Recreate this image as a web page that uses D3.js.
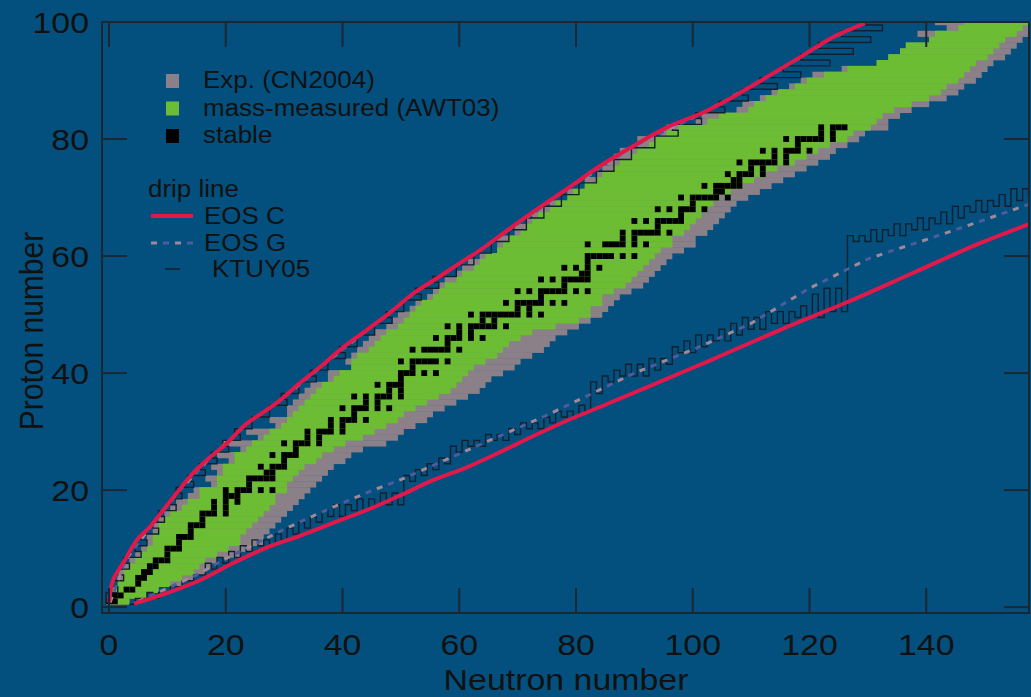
<!DOCTYPE html>
<html>
<head>
<meta charset="utf-8">
<script src="https://cdn.jsdelivr.net/npm/d3@7"></script>
<style>
  html, body { margin: 0; padding: 0; background: #03507e; }
  svg { display: block; }
  text { font-family: "Liberation Sans", Arial, Helvetica, sans-serif; fill: #111; }
</style>
</head>
<body>
<svg id="chart" width="1031" height="697"></svg>
<script>
(function() {

  'use strict';

  // --- data ---------------------------------------------------------------
  // index 0 -> Z = 1 ... index 99 -> Z = 100

  // Exp. (CN2004): lightest / heaviest known neutron number per Z
  var knownMin = [0,1,1,2,2,2,3,4,5,6, 7,7,8,8,9,10,11,12,14,15, 18,17,19,18,21,19,23,20,26,24,
                  29,28,31,31,32,33,34,35,38,38, 42,41,42,43,44,45,46,48,49,50, 52,53,55,56,57,58,60,61,62,64,
                  67,67,67,70,70,72,73,74,76,80, 79,82,82,84,85,86,87,88,91,91, 95,96,101,102,108,109,112,114,117,119,
                  121,126,132,134,136,137,141,139,144,142];
  var knownMax = [3,6,8,12,14,16,17,18,22,24, 26,26,27,28,29,30,31,32,33,34, 35,36,37,38,40,41,43,47,49,50,
                  52,54,55,57,59,61,63,64,65,67, 69,70,72,74,75,76,78,80,82,84, 85,86,87,89,91,92,93,94,95,96,
                  98,100,100,102,103,104,105,106,107,109, 111,113,115,117,119,121,123,124,126,128, 129,133,133,135,137,140,143,145,146,148,
                  149,150,151,153,154,155,156,158,158,159];

  // mass-measured (AWT03)
  var massMin = [0,1,1,2,3,3,4,5,6,7, 8,8,9,9,10,11,13,14,16,16, 19,19,20,20,22,22,24,25,27,28,
                 30,31,32,33,34,35,36,37,39,40, 42,42,43,45,46,47,48,50,51,52, 53,54,56,57,58,60,61,63,64,65,
                 67,68,69,71,72,73,74,76,77,79, 80,82,84,85,87,88,90,91,93,94, 96,98,103,105,110,111,113,115,118,120,
                 123,127,132,134,136,137,141,142,146,147];
  var massMax = [3,6,8,10,12,14,15,16,18,20, 22,22,23,24,25,26,27,28,28,30, 30,31,32,33,35,36,38,40,43,45,
                 47,49,50,52,54,56,58,59,60,61, 62,64,66,67,68,70,72,76,80,82, 82,84,84,86,88,89,90,91,92,93,
                 94,96,96,98,99,100,101,102,103,104, 106,108,110,112,114,117,119,121,123,126, 127,130,131,132,134,137,140,142,143,145,
                 146,147,148,150,151,152,153,155,156,157];

  // stable nuclei: [Z, neutron numbers]
  var stable = [
    [1,[0,1]],[2,[1,2]],[3,[3,4]],[4,[5]],[5,[5,6]],[6,[6,7]],[7,[7,8]],[8,[8,9,10]],[9,[10]],[10,[10,11,12]],
    [11,[12]],[12,[12,13,14]],[13,[14]],[14,[14,15,16]],[15,[16]],[16,[16,17,18,20]],[17,[18,20]],[18,[18,20,22]],
    [19,[20,21,22]],[20,[20,22,23,24,26,28]],[21,[24]],[22,[24,25,26,27,28]],[23,[27,28]],[24,[26,28,29,30]],
    [25,[30]],[26,[28,30,31,32]],[27,[32]],[28,[30,32,33,34,36]],[29,[34,36]],[30,[34,36,37,38,40]],[31,[38,40]],
    [32,[38,40,41,42,44]],[33,[42]],[34,[40,42,43,44,46,48]],[35,[44,46]],[36,[42,44,46,47,48,50]],[37,[48,50]],
    [38,[46,48,49,50]],[39,[50]],[40,[50,51,52,54,56]],[41,[52]],[42,[50,52,53,54,55,56,58]],
    [44,[52,54,55,56,57,58,60]],[45,[58]],[46,[56,58,59,60,62,64]],[47,[60,62]],[48,[58,60,62,63,64,65,66,68]],
    [49,[64,66]],[50,[62,64,65,66,67,68,69,70,72,74]],[51,[70,72]],[52,[68,70,71,72,73,74,76,78]],[53,[74]],
    [54,[70,72,74,75,76,77,78,80,82]],[55,[78]],[56,[74,76,78,79,80,81,82]],[57,[81,82]],[58,[78,80,82,84]],
    [59,[82]],[60,[82,83,84,85,86,88,90]],[62,[82,85,86,87,88,90,92]],[63,[88,90]],[64,[88,90,91,92,93,94,96]],
    [65,[94]],[66,[90,92,94,95,96,97,98]],[67,[98]],[68,[94,96,98,99,100,102]],[69,[100]],
    [70,[98,100,101,102,103,104,106]],[71,[104,105]],[72,[102,104,105,106,107,108]],[73,[107,108]],
    [74,[106,108,109,110,112]],[75,[110,112]],[76,[108,110,111,112,113,114,116]],[77,[114,116]],
    [78,[112,114,116,117,118,120]],[79,[118]],[80,[116,118,119,120,121,122,124]],[81,[122,124]],[82,[122,124,125,126]]
  ];

  // KTUY05 proton drip line: lightest bound N for Z = 1..100
  var ktuyProton = [0,0,2,1,3,2,4,3,6,5, 7,6,9,8,10,9,12,11,13,12, 15,14,17,16,19,18,21,20,23,22,
                    25,25,28,28,31,30,33,33,36,35, 38,38,41,40,43,43,46,46,49,48, 51,51,54,53,57,56,60,60,63,63,
                    66,66,69,69,72,72,75,75,78,78, 81,81,84,84,87,87,90,90,94,94, 98,97,102,101,106,105,110,109,115,112,
                    119,116,124,119,128,122,131,126,133,130];

  // KTUY05 neutron drip line: lightest bound Z for N = 4..158
  var ktuyNeutronStart = 4;
  var ktuyNeutron = [1,2,2,3,2,3,3,4,4,5, 5,6,6,8,7,9,8,10,9,11,
                     10,12,11,12,11,13,12,14,13,15, 14,16,15,17,16,18,16,18,17,19,
                     17,19,18,20,18,20,18,23,22,24, 23,25,24,26,25,28,27,29,28,29,
                     28,30,29,30,29,31,30,32,31,32, 31,33,32,34,33,34,33,35,34,39,
                     37,40,39,41,40,42,40,42,40,43, 41,43,42,45,44,46,44,47,45,47,
                     46,48,46,49,47,50,48,50,48,51, 49,51,49,51,50,52,50,54,50,55,
                     51,55,51,64,63,64,63,65,63,65, 64,66,64,66,65,67,65,67,66,68,
                     66,69,67,69,68,70,68,70,69,71, 69,72,70,72,71];

  // EOS C drip lines [N, Z]
  var eosCProton = [[0,0.8],[0.7,4.6],[2.7,8],[4.8,11.5],[7,13.7],[9.3,16.6],[11.6,19.5],[14.4,22.9],[17.3,25.6],
                    [20.2,28],[23.6,31.4],[26.6,33.4],[29.6,35.6],[32.7,38.3],[36.1,41],[40.1,44.4],[44.2,47.4],
                    [48.1,50.3],[52.1,53.6],[56.3,56.3],[60.1,58.8],[63.6,61],[67,63.5],[72.6,67.5],[78.5,71.5],
                    [84.1,75.4],[89.8,78.8],[95.6,82],[101.5,84.4],[106.9,87.2],[112.7,90.6],[118.4,94],
                    [124,97.4],[129.5,99.8]];
  var eosCNeutron = [[4.3,0.6],[9.9,2.4],[15.6,4.6],[21.2,7.5],[27.1,10.2],[32.7,12.2],[38.4,14.4],[44.2,16.6],
                     [49.9,19.1],[55.5,21.7],[61.3,23.9],[67,26.5],[72.6,29.2],[78.5,31.9],[84.1,34.2],[92.2,37.6],
                     [103.5,42.4],[115,47.4],[126.4,52.1],[137.7,57.1],[149.2,62.2],[158,65.6]];

  // EOS G drip lines [N, Z] (proton side lies under EOS C)
  var eosGProton = [[0.2,0.8],[2.8,8],[7.1,13.7],[11.7,19.5],[17.4,25.6],[23.7,31.4],[29.7,35.6],[36.2,41],
                    [44.3,47.4],[52.2,53.6],[60.2,58.8],[67.1,63.5],[78.6,71.5],[89.9,78.8],[101.6,84.4],
                    [112.8,90.6],[124.1,97.4],[129.6,99.8]];
  var eosGNeutron = [[5,1],[10,3.2],[15,5.5],[20,8.3],[25,10.8],[30,13.3],[35,15.6],[40,17.8],[45,19.9],
                     [50,21.8],[55,24],[60,26.2],[65,28.4],[70,30.6],[75,32.8],[80,35.2],[85,37.6],[90,40],
                     [95,42],[100,44],[105,46.2],[110,48.5],[115,51.5],[120,54.5],[125,57],[130,59.5],
                     [135,61.2],[140,62.8],[145,64.5],[150,66.2],[158,69]];

  var xTicks = [0, 20, 40, 60, 80, 100, 120, 140];
  var yTicks = [0, 20, 40, 60, 80, 100];

  var legendCells = [
    { label: 'Exp. (CN2004)', color: '#8c8088' },
    { label: 'mass-measured (AWT03)', color: '#6cbc34' },
    { label: 'stable', color: '#000000' }
  ];
  var legendLines = ['EOS C', 'EOS G', 'KTUY05'];

  // --- colours / scales ---------------------------------------------------
  var grey = '#8c8088';
  var green = '#6cbc34';
  var red = '#e2184a';
  var gDashA = '#a08898';
  var gDashB = '#4c5c9c';
  var axisCol = '#1b2733';
  var stretch = 'scale(1.13,1)';

  var svg = d3.select('#chart');
  var x = d3.scaleLinear().domain([-1.2, 157.6]).range([102, 1029]);
  var y = d3.scaleLinear().domain([-1, 100]).range([613, 22]);

  svg.append('rect').attr('width', 1031).attr('height', 697).attr('fill', '#03507e');

  svg.append('clipPath').attr('id', 'plotclip')
    .append('rect')
    .attr('x', x.range()[0]).attr('y', y.range()[1])
    .attr('width', x.range()[1] - x.range()[0])
    .attr('height', y.range()[0] - y.range()[1]);

  var plot = svg.append('g').attr('clip-path', 'url(#plotclip)');
  var zs = d3.range(1, 101);

  function row(cls, mins, maxs, col) {
    plot.append('g').selectAll('rect.' + cls)
      .data(zs)
      .join('rect')
      .attr('class', cls)
      .attr('x', function(z) { return x(mins[z - 1] - 0.5); })
      .attr('width', function(z) { return x(maxs[z - 1] + 0.5) - x(mins[z - 1] - 0.5); })
      .attr('y', function(z) { return y(z + 0.5); })
      .attr('height', function(z) { return y(z - 0.5) - y(z + 0.5) + 0.3; })
      .attr('fill', col);
  }
  row('known', knownMin, knownMax, grey);
  row('mass', massMin, massMax, green);

  var stableCells = [];
  stable.forEach(function(s) {
    s[1].forEach(function(n) { stableCells.push([n, s[0]]); });
  });
  plot.append('g').selectAll('rect.stable')
    .data(stableCells)
    .join('rect')
    .attr('x', function(d) { return x(d[0] - 0.5); })
    .attr('y', function(d) { return y(d[1] + 0.5); })
    .attr('width', x(1) - x(0))
    .attr('height', y(0) - y(1))
    .attr('fill', '#000');

  // KTUY05 step lines
  var pPts = [];
  ktuyProton.forEach(function(n, i) {
    var z = i + 1;
    pPts.push([n - 0.5, z - 0.5], [n - 0.5, z + 0.5]);
  });
  var nPts = [];
  ktuyNeutron.forEach(function(z, i) {
    var n = ktuyNeutronStart + i;
    nPts.push([n - 0.5, z - 0.5], [n + 0.5, z - 0.5]);
  });
  var line = d3.line().x(function(d) { return x(d[0]); }).y(function(d) { return y(d[1]); });

  [pPts, nPts].forEach(function(pts) {
    plot.append('path').attr('d', line(pts))
      .attr('fill', 'none').attr('stroke', '#12202e').attr('stroke-width', 1.4);
  });

  // EOS G dashed, alternating grey / blue dashes
  function dashed(sel, x1, y1, x2, y2, d) {
    [[gDashA, 0], [gDashB, 12]].forEach(function(c) {
      var p = sel.append('path')
        .attr('fill', 'none').attr('stroke', c[0]).attr('stroke-width', 3)
        .attr('stroke-dasharray', '6,18').attr('stroke-dashoffset', -c[1]);
      if (d) p.attr('d', d); else p.attr('d', 'M' + x1 + ',' + y1 + 'L' + x2 + ',' + y2);
    });
  }
  [eosGProton, eosGNeutron].forEach(function(pts) {
    dashed(plot, 0, 0, 0, 0, line(pts));
  });

  // EOS C
  var smooth = d3.line().x(function(d) { return x(d[0]); }).y(function(d) { return y(d[1]); })
    .curve(d3.curveCatmullRom);
  [eosCProton, eosCNeutron].forEach(function(pts) {
    plot.append('path').attr('d', smooth(pts))
      .attr('fill', 'none').attr('stroke', red).attr('stroke-width', 4)
      .attr('stroke-linejoin', 'round');
  });

  // --- axes ---------------------------------------------------------------
  var ax = svg.append('g');
  var x0 = x.range()[0], x1 = x.range()[1], y0 = y.range()[0], y1 = y.range()[1];
  ax.append('rect').attr('x', x0).attr('y', y1).attr('width', x1 - x0).attr('height', y0 - y1)
    .attr('fill', 'none').attr('stroke', axisCol).attr('stroke-width', 2);

  var tl = 25;
  xTicks.forEach(function(t) {
    ax.append('line').attr('x1', x(t)).attr('x2', x(t)).attr('y1', y0).attr('y2', y0 - tl)
      .attr('stroke', axisCol).attr('stroke-width', 2);
    ax.append('line').attr('x1', x(t)).attr('x2', x(t)).attr('y1', y1).attr('y2', y1 + tl)
      .attr('stroke', axisCol).attr('stroke-width', 2);
    ax.append('text').attr('transform', 'translate(' + x(t) + ',655) ' + stretch)
      .attr('text-anchor', 'middle').attr('font-size', 30).text(t);
  });
  yTicks.forEach(function(t) {
    ax.append('line').attr('x1', x0).attr('x2', x0 + tl).attr('y1', y(t)).attr('y2', y(t))
      .attr('stroke', axisCol).attr('stroke-width', 2);
    ax.append('line').attr('x1', x1).attr('x2', x1 - tl).attr('y1', y(t)).attr('y2', y(t))
      .attr('stroke', axisCol).attr('stroke-width', 2);
    ax.append('text').attr('transform', 'translate(89,' + (y(t) + 11) + ') ' + stretch)
      .attr('text-anchor', 'end').attr('font-size', 30).text(t);
  });

  ax.append('text').attr('transform', 'translate(566,690) ' + stretch)
    .attr('text-anchor', 'middle').attr('font-size', 30).text('Neutron number');
  ax.append('text').attr('transform', 'translate(43,331) ' + stretch + ' rotate(-90)')
    .attr('text-anchor', 'middle').attr('font-size', 30).text('Proton number');

  // --- legend -------------------------------------------------------------
  var lg = svg.append('g');
  legendCells.forEach(function(d, i) {
    var cy = 81 + i * 27.5;
    lg.append('rect').attr('x', 166).attr('y', cy - 7).attr('width', 13).attr('height', 14).attr('fill', d.color);
    lg.append('text').attr('transform', 'translate(203,' + (cy + 7) + ') ' + stretch)
      .attr('font-size', 23).text(d.label);
  });
  lg.append('text').attr('transform', 'translate(148,197) ' + stretch).attr('font-size', 23).text('drip line');

  var ly = [216, 243, 269];
  lg.append('line').attr('x1', 151).attr('x2', 193).attr('y1', ly[0]).attr('y2', ly[0])
    .attr('stroke', red).attr('stroke-width', 4);
  dashed(lg, 151, ly[1], 193, ly[1]);
  lg.append('line').attr('x1', 165).attr('x2', 180).attr('y1', ly[2]).attr('y2', ly[2])
    .attr('stroke', '#12202e').attr('stroke-width', 1.5);
  var lx = [204, 204, 212];
  legendLines.forEach(function(t, i) {
    lg.append('text').attr('transform', 'translate(' + lx[i] + ',' + (ly[i] + 8) + ') ' + stretch)
      .attr('font-size', 23).text(t);
  });

})();
</script>
</body>
</html>
